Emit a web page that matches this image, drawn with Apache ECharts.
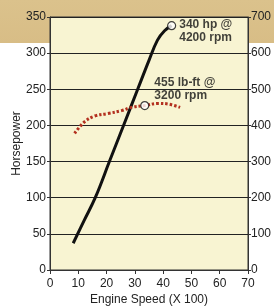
<!DOCTYPE html>
<html><head><meta charset="utf-8">
<script src="https://cdn.jsdelivr.net/npm/echarts@6/dist/echarts.min.js"></script>
<style>
html,body{margin:0;padding:0;}
body{background:linear-gradient(to bottom,#dbc28c 0px,#d8bd86 43px,#ffffff 43px,#ffffff 100%);}
#c{width:274px;height:308px;}
</style></head>
<body><div id="c"></div>
<script>
// Engine speed (x100 rpm) vs horsepower
const hpRpm = [8.2, 12, 16, 21, 26, 31, 35, 38, 40.5, 43];
const hpVals = [37, 68, 100, 150, 200, 250, 290, 318, 331, 338];
// Engine speed vs torque (lb-ft)
const tqRpm = [8.7, 12.2, 15.8, 20.5, 25.3, 28.8, 33.5, 38.3, 41.9, 46];
const tqVals = [378, 410, 426, 433, 441, 450, 455, 461, 459, 450];
const xTicks = [0, 10, 20, 30, 40, 50, 60, 70];
const hpTicks = [0, 50, 100, 150, 200, 250, 300, 350];
const tqTicks = [0, 100, 200, 300, 400, 500, 600, 700];
const peakHp = [43, 338];
const peakTq = [33.5, 455];
const peakHpLabel = '340 hp @\n4200 rpm';
const peakTqLabel = '455 lb-ft @\n3200 rpm';

const font = 'Liberation Sans, Arial, sans-serif';
const chart = echarts.init(document.getElementById('c'), null, {renderer: 'canvas'});
chart.setOption({
  animation: false,
  backgroundColor: 'transparent',
  grid: {left: 50, right: 26, top: 17, bottom: 38, outerBoundsMode: 'none', containLabel: false,
    show: true, backgroundColor: '#f8f4d2', borderColor: '#333', borderWidth: 1},
  xAxis: {
    type: 'value', min: xTicks[0], max: xTicks[xTicks.length - 1], interval: 10,
    name: 'Engine Speed (X 100)', nameLocation: 'middle', nameGap: 24, nameMoveOverlap: false,
    nameTextStyle: {fontFamily: font, fontSize: 12, color: '#222'},
    axisLine: {show: true, lineStyle: {color: '#333', width: 1}},
    axisTick: {show: true, length: 4, lineStyle: {color: '#333'}},
    axisLabel: {fontFamily: font, fontSize: 12, color: '#222', margin: 8},
    splitLine: {show: false}
  },
  yAxis: [{
    type: 'value', min: hpTicks[0], max: hpTicks[hpTicks.length - 1], interval: 50,
    name: 'Horsepower', nameLocation: 'middle', nameGap: 27, nameMoveOverlap: false,
    nameTextStyle: {fontFamily: font, fontSize: 12, color: '#222'},
    axisLine: {show: true, lineStyle: {color: '#333', width: 1}},
    axisTick: {show: true, length: 3, lineStyle: {color: '#333'}},
    axisLabel: {fontFamily: font, fontSize: 12, color: '#222', margin: 4},
    splitLine: {show: true, lineStyle: {color: '#222', width: 1}}
  }, {
    type: 'value', min: tqTicks[0], max: tqTicks[tqTicks.length - 1], interval: 100, position: 'right',
    name: 'Torque (lb-ft)', nameLocation: 'middle', nameGap: 27, nameMoveOverlap: false,
    nameTextStyle: {fontFamily: font, fontSize: 12, color: '#222'},
    axisLine: {show: true, lineStyle: {color: '#333', width: 1}},
    axisTick: {show: true, length: 3, lineStyle: {color: '#333'}},
    axisLabel: {fontFamily: font, fontSize: 12, color: '#222', margin: 3},
    splitLine: {show: false}
  }],
  series: [{
    type: 'line', yAxisIndex: 0, smooth: 0.4, symbol: 'none',
    data: hpRpm.map((r, i) => [r, hpVals[i]]),
    lineStyle: {color: '#111', width: 3}
  }, {
    type: 'line', yAxisIndex: 1, smooth: 0.4, symbol: 'none',
    data: tqRpm.map((r, i) => [r, tqVals[i]]),
    lineStyle: {color: '#b3301f', width: 3, type: [2.5, 2]}
  }, {
    type: 'scatter', yAxisIndex: 0, symbol: 'circle', symbolSize: 8,
    itemStyle: {color: '#fff', borderColor: '#111', borderWidth: 1.2},
    data: [peakHp],
    label: {show: true, formatter: peakHpLabel, position: 'right', distance: 3, offset: [0, 6],
      fontFamily: font, fontSize: 12, fontWeight: 'bold', color: '#111', lineHeight: 13, align: 'left'},
    z: 5
  }, {
    type: 'scatter', yAxisIndex: 1, symbol: 'circle', symbolSize: 8,
    itemStyle: {color: '#fff', borderColor: '#111', borderWidth: 1.2},
    data: [peakTq],
    label: {show: true, formatter: peakTqLabel, position: 'right', distance: 3, offset: [2, -16],
      fontFamily: font, fontSize: 12, fontWeight: 'bold', color: '#111', lineHeight: 13, align: 'left'},
    z: 5
  }]
});
</script></body></html>
